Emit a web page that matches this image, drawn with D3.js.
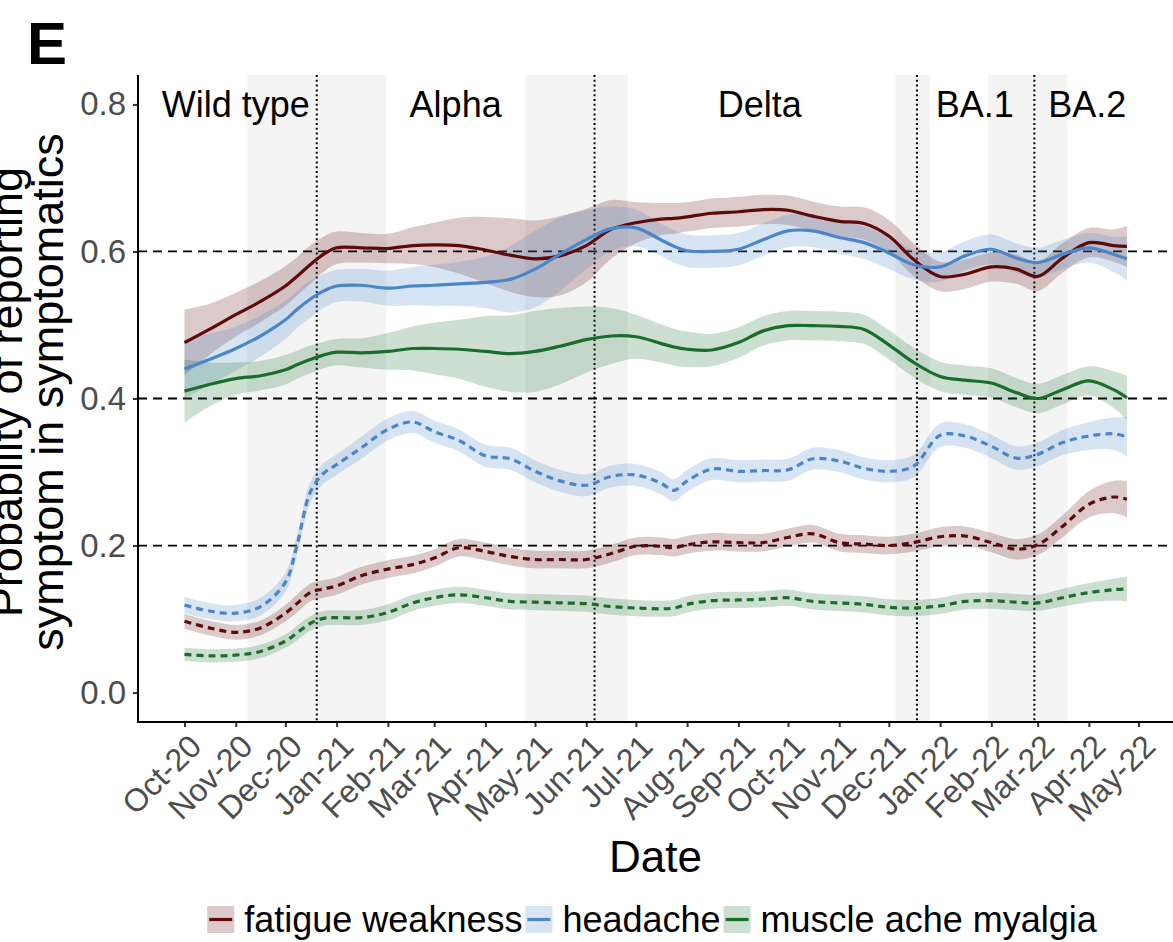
<!DOCTYPE html>
<html>
<head>
<meta charset="utf-8">
<script src="https://cdn.jsdelivr.net/npm/d3@7"></script>
<style>
  body { margin: 0; background: #fff; }
  svg { display: block; font-family: "Liberation Sans", Arial, Helvetica, sans-serif; }
</style>
</head>
<body>
<svg id="chart" width="1173" height="942"></svg>
<script>
'use strict';

// sample dates (estimated curve read every ~half month)
const dates = [
  '2020-10-01','2020-10-16','2020-11-01','2020-11-16','2020-12-01','2020-12-08','2020-12-16','2020-12-24',
  '2021-01-01','2021-01-16','2021-02-01','2021-02-16','2021-03-01','2021-03-16','2021-04-01','2021-04-16',
  '2021-05-01','2021-05-16','2021-06-01','2021-06-16','2021-07-01','2021-07-16','2021-07-24','2021-08-01',
  '2021-08-16','2021-09-01','2021-09-16','2021-10-01','2021-10-16','2021-11-01','2021-11-16','2021-12-01',
  '2021-12-16','2022-01-01','2022-01-16','2022-02-01','2022-02-16','2022-03-01','2022-03-16','2022-04-01',
  '2022-04-16','2022-04-24'
];

// solid lines
const fatigueAll = [
  0.476,0.494,0.514,0.532,0.553,0.566,0.582,0.596,0.605,0.605,0.604,0.608,0.609,0.608,0.602,0.595,
  0.590,0.594,0.608,0.630,0.639,0.644,0.645,0.647,0.652,0.654,0.657,0.656,0.648,0.641,0.638,0.621,
  0.589,0.566,0.569,0.579,0.576,0.566,0.591,0.612,0.608,0.607
];
const fatigueAllHw = [
  0.045,0.035,0.030,0.028,0.027,0.026,0.026,0.024,0.022,0.020,0.020,0.025,0.030,0.038,0.045,0.050,
  0.052,0.054,0.050,0.040,0.028,0.022,0.021,0.020,0.020,0.020,0.020,0.020,0.020,0.020,0.022,0.022,
  0.022,0.020,0.020,0.020,0.020,0.020,0.020,0.020,0.022,0.028
];
const headacheAll = [
  0.440,0.453,0.468,0.485,0.507,0.521,0.535,0.546,0.553,0.554,0.550,0.553,0.554,0.556,0.558,0.562,
  0.576,0.596,0.616,0.631,0.632,0.616,0.607,0.601,0.600,0.603,0.616,0.628,0.628,0.619,0.612,0.598,
  0.582,0.579,0.594,0.603,0.591,0.585,0.596,0.605,0.596,0.590
];
const headacheAllHw = [
  0.040,0.035,0.030,0.028,0.026,0.025,0.025,0.023,0.022,0.022,0.024,0.026,0.028,0.030,0.035,0.045,
  0.052,0.050,0.040,0.030,0.025,0.022,0.022,0.022,0.022,0.022,0.022,0.022,0.022,0.022,0.022,0.022,
  0.020,0.020,0.020,0.020,0.020,0.020,0.020,0.020,0.024,0.030
];
const muscleAll = [
  0.410,0.419,0.427,0.431,0.439,0.446,0.453,0.459,0.463,0.462,0.464,0.468,0.468,0.467,0.464,0.461,
  0.464,0.471,0.480,0.485,0.484,0.475,0.470,0.467,0.466,0.476,0.492,0.499,0.499,0.498,0.494,0.473,
  0.449,0.430,0.425,0.421,0.408,0.400,0.412,0.424,0.412,0.401
];
const muscleAllHw = [
  0.043,0.030,0.022,0.020,0.020,0.019,0.019,0.018,0.018,0.020,0.025,0.030,0.035,0.040,0.048,0.052,
  0.055,0.052,0.045,0.038,0.030,0.026,0.025,0.024,0.022,0.021,0.020,0.020,0.020,0.020,0.020,0.020,
  0.020,0.020,0.020,0.020,0.020,0.020,0.020,0.020,0.025,0.030
];

// dashed lines
const fatigueNew = [
  0.097,0.088,0.082,0.088,0.108,0.121,0.136,0.141,0.145,0.159,0.168,0.174,0.183,0.197,0.192,0.185,
  0.181,0.181,0.181,0.189,0.199,0.199,0.197,0.201,0.205,0.204,0.204,0.211,0.216,0.204,0.202,0.200,
  0.204,0.212,0.213,0.204,0.195,0.201,0.226,0.256,0.266,0.263
];
const fatigueNewHw = [
  0.010,0.010,0.010,0.010,0.011,0.012,0.012,0.012,0.012,0.012,0.012,0.012,0.012,0.012,0.012,0.012,
  0.012,0.012,0.012,0.012,0.012,0.012,0.012,0.012,0.012,0.012,0.012,0.012,0.012,0.012,0.012,0.012,
  0.012,0.013,0.013,0.013,0.014,0.014,0.015,0.018,0.022,0.025
];
const headacheNew = [
  0.119,0.111,0.108,0.117,0.150,0.200,0.272,0.298,0.310,0.333,0.358,0.368,0.355,0.343,0.322,0.318,
  0.301,0.288,0.282,0.294,0.296,0.285,0.275,0.288,0.304,0.301,0.302,0.303,0.318,0.315,0.305,0.301,
  0.308,0.350,0.349,0.335,0.319,0.324,0.340,0.349,0.352,0.348
];
const headacheNewHw = [
  0.011,0.011,0.011,0.012,0.013,0.014,0.014,0.014,0.014,0.015,0.015,0.015,0.015,0.015,0.015,0.015,
  0.015,0.015,0.015,0.015,0.015,0.015,0.015,0.015,0.015,0.015,0.015,0.015,0.015,0.015,0.015,0.015,
  0.015,0.016,0.016,0.016,0.016,0.016,0.017,0.019,0.022,0.027
];
const muscleNew = [
  0.052,0.050,0.051,0.056,0.070,0.081,0.094,0.101,0.102,0.102,0.109,0.122,0.129,0.133,0.129,0.124,
  0.123,0.122,0.121,0.117,0.115,0.114,0.115,0.120,0.125,0.126,0.127,0.129,0.124,0.122,0.120,0.116,
  0.115,0.118,0.124,0.125,0.123,0.122,0.129,0.136,0.140,0.141
];
const muscleNewHw = [
  0.009,0.009,0.009,0.009,0.009,0.010,0.010,0.010,0.010,0.010,0.011,0.011,0.011,0.011,0.011,0.011,
  0.011,0.011,0.011,0.011,0.011,0.011,0.011,0.011,0.011,0.011,0.011,0.011,0.011,0.011,0.011,0.011,
  0.011,0.011,0.011,0.011,0.011,0.011,0.012,0.013,0.015,0.017
];

// variant periods
const variantNames = ['Wild type', 'Alpha', 'Delta', 'BA.1', 'BA.2'];
const variantLabelDates = ['2020-11-01', '2021-03-14', '2021-09-14', '2022-01-22', '2022-03-31'];
const transitionStarts = ['2020-11-08', '2021-04-25', '2021-12-05', '2022-01-30'];
const transitionEnds = ['2021-01-31', '2021-06-26', '2021-12-26', '2022-03-19'];
const variantSwitches = ['2020-12-20', '2021-06-06', '2021-12-18', '2022-02-27'];

const yTicks = [0, 0.2, 0.4, 0.6, 0.8];
const gridValues = [0.2, 0.4, 0.6];
const symptoms = ['fatigue weakness', 'headache', 'muscle ache myalgia'];
const colors = ['#5e0a0a', '#4a86c8', '#1a6e2b'];

/**************************************************************************/

const parse = d3.utcParse('%Y-%m-%d');
const fmt = d3.utcFormat('%b-%y');

const P = { left: 138, right: 1173, top: 75, bottom: 722 };

const x = d3.scaleUtc()
  .domain([parse('2020-10-01'), parse('2022-05-01')])
  .range([184.5, 1138.5]);
const y = d3.scaleLinear()
  .domain([-0.04, 0.84])
  .range([P.bottom, P.top]);

function series(vals, hws, i, dashed) {
  return {
    color: colors[i],
    dashed: dashed,
    points: dates.map((d, k) => ({ date: parse(d), v: vals[k], hw: hws[k] }))
  };
}

const allSeries = [
  series(fatigueNew, fatigueNewHw, 0, true),
  series(headacheNew, headacheNewHw, 1, true),
  series(muscleNew, muscleNewHw, 2, true),
  series(fatigueAll, fatigueAllHw, 0, false),
  series(headacheAll, headacheAllHw, 1, false),
  series(muscleAll, muscleAllHw, 2, false)
];

const svg = d3.select('#chart');

// panel label
svg.append('text')
  .attr('x', 27).attr('y', 64)
  .attr('font-size', 60).attr('font-weight', 'bold')
  .text('E');

const panel = svg.append('g');

// transition bands
panel.selectAll('rect.band')
  .data(d3.zip(transitionStarts, transitionEnds))
  .enter().append('rect')
    .attr('class', 'band')
    .attr('x', d => x(parse(d[0])))
    .attr('width', d => x(parse(d[1])) - x(parse(d[0])))
    .attr('y', P.top)
    .attr('height', P.bottom - P.top)
    .attr('fill', '#f4f4f4');

// horizontal reference lines
panel.selectAll('line.hgrid')
  .data(gridValues)
  .enter().append('line')
    .attr('x1', P.left).attr('x2', P.right)
    .attr('y1', d => y(d)).attr('y2', d => y(d))
    .attr('stroke', '#000')
    .attr('stroke-width', 1.8)
    .attr('stroke-dasharray', '9,6');

// variant switch lines
panel.selectAll('line.vline')
  .data(variantSwitches)
  .enter().append('line')
    .attr('x1', d => x(parse(d))).attr('x2', d => x(parse(d)))
    .attr('y1', P.top).attr('y2', P.bottom)
    .attr('stroke', '#000')
    .attr('stroke-width', 2)
    .attr('stroke-dasharray', '2,2.8');

const curve = d3.curveCatmullRom.alpha(0.5);
const area = d3.area()
  .x(d => x(d.date))
  .y0(d => y(d.v - d.hw))
  .y1(d => y(d.v + d.hw))
  .curve(curve);
const line = d3.line()
  .x(d => x(d.date))
  .y(d => y(d.v))
  .curve(curve);

panel.selectAll('path.ribbon')
  .data(allSeries)
  .enter().append('path')
    .attr('d', d => area(d.points))
    .attr('fill', d => d.color)
    .attr('fill-opacity', 0.22)
    .attr('stroke', 'none');

panel.selectAll('path.trend')
  .data(allSeries)
  .enter().append('path')
    .attr('d', d => line(d.points))
    .attr('fill', 'none')
    .attr('stroke', d => d.color)
    .attr('stroke-width', 3.2)
    .attr('stroke-dasharray', d => d.dashed ? '7,5' : null);

// variant labels
panel.selectAll('text.variant')
  .data(variantNames)
  .enter().append('text')
    .attr('x', (d, i) => x(parse(variantLabelDates[i])))
    .attr('y', y(0.8))
    .attr('dy', '0.36em')
    .attr('text-anchor', 'middle')
    .attr('font-size', 36)
    .attr('fill', '#000')
    .text(d => d);

// axes
const months = d3.utcMonth.range(parse('2020-10-01'), parse('2022-05-02'));

const xAxis = svg.append('g')
  .attr('transform', `translate(0,${P.bottom})`)
  .call(d3.axisBottom(x).tickValues(months).tickFormat(fmt).tickSize(5).tickSizeOuter(0));
xAxis.select('.domain').remove();
xAxis.selectAll('.tick line').attr('stroke', '#333').attr('stroke-width', 2);
xAxis.selectAll('.tick text')
  .attr('x', 0).attr('y', 0)
  .attr('dy', '0.72em')
  .attr('text-anchor', 'end')
  .attr('transform', 'translate(2,10) rotate(-45)')
  .attr('font-size', 32)
  .attr('font-family', null)
  .attr('fill', '#4d4d4d');

const yAxis = svg.append('g')
  .attr('transform', `translate(${P.left},0)`)
  .call(d3.axisLeft(y).tickValues(yTicks).tickFormat(d3.format('.1f')).tickSize(5).tickPadding(7).tickSizeOuter(0));
yAxis.select('.domain').remove();
yAxis.selectAll('.tick line').attr('stroke', '#333').attr('stroke-width', 2);
yAxis.selectAll('.tick text')
  .attr('font-size', 33)
  .attr('font-family', null)
  .attr('fill', '#4d4d4d');

svg.append('line')
  .attr('x1', P.left).attr('x2', P.left)
  .attr('y1', P.top).attr('y2', P.bottom + 1)
  .attr('stroke', '#000').attr('stroke-width', 2);
svg.append('line')
  .attr('x1', P.left - 1).attr('x2', P.right)
  .attr('y1', P.bottom).attr('y2', P.bottom)
  .attr('stroke', '#000').attr('stroke-width', 2);

// axis titles
svg.append('text')
  .attr('x', (P.left + P.right) / 2).attr('y', 872)
  .attr('text-anchor', 'middle')
  .attr('font-size', 44)
  .text('Date');

// the first line runs past the left edge, as in the reference
const yTitle = svg.append('text')
  .attr('transform', 'translate(0,392) rotate(-90)')
  .attr('text-anchor', 'middle')
  .attr('font-size', 45);
yTitle.append('tspan').attr('x', 0).attr('y', 22).text('Probability of reporting');
yTitle.append('tspan').attr('x', 0).attr('y', 63).text('symptom in symptomatics');

// legend
const legend = svg.append('g');
let lx = 0;
symptoms.forEach(function (name, i) {
  const g = legend.append('g').attr('transform', `translate(${lx},0)`);
  g.append('rect')
    .attr('x', 0).attr('y', 906).attr('width', 27).attr('height', 27)
    .attr('fill', colors[i]).attr('fill-opacity', 0.22);
  g.append('line')
    .attr('x1', 2).attr('x2', 25).attr('y1', 919.5).attr('y2', 919.5)
    .attr('stroke', colors[i]).attr('stroke-width', 3.2);
  const t = g.append('text')
    .attr('x', 37).attr('y', 932)
    .attr('font-size', 36)
    .text(name);
  lx += 37 + t.node().getComputedTextLength() + 3;
});
legend.attr('transform', `translate(${652 - (lx - 3) / 2},0)`);
</script>
</body>
</html>
